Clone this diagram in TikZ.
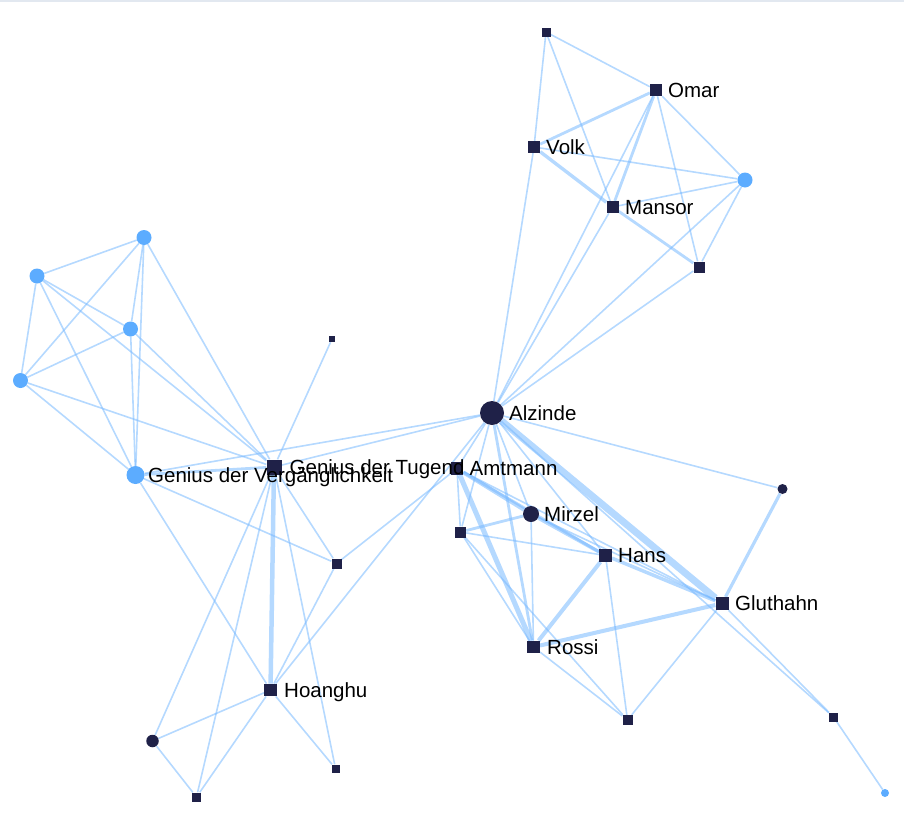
\documentclass[tikz,border=0pt]{standalone}
\usepackage{fontspec}
\setmainfont{Liberation Sans}
\usetikzlibrary{backgrounds}
\definecolor{navy}{RGB}{31,33,72}
\definecolor{lblue}{RGB}{92,172,255}
\definecolor{ecol}{RGB}{120,185,255}
\definecolor{topline}{RGB}{226,232,240}
\begin{document}
\begin{tikzpicture}[x=1bp,y=-1bp,
  sq/.style={rectangle,fill=navy,draw=none,inner sep=0pt,minimum size=#1bp},
  dc/.style={circle,fill=navy,draw=none,inner sep=0pt,minimum size=#1bp},
  lc/.style={circle,fill=lblue,draw=none,inner sep=0pt,minimum size=#1bp},
  e/.style={draw=ecol,draw opacity=0.55,line width=1.6bp},
  ew/.style={draw=ecol,draw opacity=0.55,line width=#1bp},
  lab/.style={anchor=base west,inner sep=0pt,text=black,font=\fontsize{20.5bp}{24bp}\selectfont}]
\useasboundingbox (0,0) rectangle (904,827);
\coordinate (tl) at (0,1);
\coordinate (tr) at (904,1);
\draw[topline,line width=1.5bp] (tl) -- (tr);
% nodes
\node[sq=9] (s1) at (546,32) {};
\node[sq=12] (omar) at (656,90) {};
\node[sq=12] (volk) at (534,147) {};
\node[sq=12] (mansor) at (612.5,207) {};
\node[lc=15] (c1) at (745,180) {};
\node[sq=11] (s2) at (699,267) {};
\node[dc=24] (alz) at (492,413) {};
\node[sq=6] (p1) at (332,339) {};
\node[lc=15] (lb1) at (144,237.5) {};
\node[lc=15] (lb2) at (37,276) {};
\node[lc=15] (lb3) at (130.5,329) {};
\node[lc=15] (lb4) at (20.5,380.5) {};
\node[lc=18] (gdv) at (135.5,475) {};
\node[sq=15] (gdt) at (274,467) {};
\node[sq=12.5] (amt) at (457,468.5) {};
\node[dc=16] (mir) at (531,514) {};
\node[sq=11] (s3) at (460.5,532) {};
\node[sq=12.5] (hans) at (605.5,555.5) {};
\node[sq=13] (glu) at (722,603.5) {};
\node[sq=12.5] (rossi) at (533.5,647) {};
\node[dc=10] (d1) at (782.5,489) {};
\node[sq=10] (s4) at (336.5,563.5) {};
\node[sq=12.5] (hoa) at (270.5,690) {};
\node[dc=12.5] (d2) at (152.5,741) {};
\node[sq=9] (s5) at (196.5,797) {};
\node[sq=8] (s6) at (335.5,768.5) {};
\node[sq=10] (s7) at (627.5,720) {};
\node[sq=9] (s8) at (833.5,717) {};
\node[lc=8] (lb5) at (885,793) {};
% labels
\node[lab] (lomar) at (668,97) {Omar};
\node[lab] (lvolk) at (546,154) {Volk};
\node[lab] (lmansor) at (625,214) {Mansor};
\node[lab] (lalz) at (509,420) {Alzinde};
\node[lab] (lgdv) at (148,482) {Genius der Vergänglichkeit};
\node[lab] (lgdt) at (289.5,474) {Genius der Tugend};
\node[lab] (lamt) at (469.5,475.5) {Amtmann};
\node[lab] (lmir) at (544,521) {Mirzel};
\node[lab] (lhans) at (618,562.5) {Hans};
\node[lab] (lglu) at (735,610.5) {Gluthahn};
\node[lab] (lrossi) at (547,654) {Rossi};
\node[lab] (lhoa) at (284,697) {Hoanghu};
% edges
\begin{scope}[on background layer]
% top cluster
\draw[e] (s1) -- (omar);
\draw[e] (s1) -- (volk);
\draw[e] (s1) -- (mansor);
\draw[ew=2.8] (volk) -- (omar);
\draw[ew=3.4] (volk) -- (mansor);
\draw[e] (volk) -- (c1);
\draw[e] (volk) -- (alz);
\draw[ew=2.8] (omar) -- (mansor);
\draw[e] (omar) -- (c1);
\draw[e] (omar) -- (s2);
\draw[e] (omar) -- (alz);
\draw[e] (mansor) -- (c1);
\draw[ew=2.8] (mansor) -- (s2);
\draw[e] (mansor) -- (alz);
\draw[e] (c1) -- (s2);
\draw[e] (c1) -- (alz);
\draw[e] (s2) -- (alz);
% left cluster
\draw[e] (lb1) -- (lb2);
\draw[e] (lb1) -- (lb3);
\draw[e] (lb1) -- (lb4);
\draw[e] (lb1) -- (gdv);
\draw[e] (lb1) -- (gdt);
\draw[e] (lb2) -- (lb3);
\draw[e] (lb2) -- (lb4);
\draw[e] (lb2) -- (gdv);
\draw[e] (lb2) -- (gdt);
\draw[e] (lb3) -- (lb4);
\draw[e] (lb3) -- (gdv);
\draw[e] (lb3) -- (gdt);
\draw[e] (lb4) -- (gdv);
\draw[e] (lb4) -- (gdt);
\draw[ew=2.8] (gdv) -- (gdt);
\draw[e] (gdv) -- (alz);
\draw[e] (gdv) -- (s4);
\draw[e] (gdv) -- (hoa);
\draw[e] (gdt) -- (alz);
\draw[e] (gdt) -- (p1);
\draw[e] (gdt) -- (s4);
\draw[ew=4.5] (gdt) -- (hoa);
\draw[e] (gdt) -- (d2);
\draw[e] (gdt) -- (s5);
\draw[e] (gdt) -- (s6);
% bottom left
\draw[e] (hoa) -- (d2);
\draw[e] (hoa) -- (s5);
\draw[e] (hoa) -- (s6);
\draw[e] (hoa) -- (s4);
\draw[e] (hoa) -- (alz);
\draw[e] (d2) -- (s5);
\draw[e] (s4) -- (amt);
% right cluster
\draw[e] (alz) -- (amt);
\draw[e] (alz) -- (s3);
\draw[e] (alz) -- (mir);
\draw[e] (alz) -- (hans);
\draw[ew=7] (alz) -- (glu);
\draw[ew=2.8] (alz) -- (rossi);
\draw[e] (alz) -- (d1);
\draw[e] (alz) -- (s8);
\draw[ew=4] (amt) -- (mir);
\draw[ew=2.8] (amt) -- (hans);
\draw[e] (amt) -- (s3);
\draw[ew=5] (amt) -- (rossi);
\draw[e] (amt) -- (glu);
\draw[ew=2.8] (mir) -- (s3);
\draw[ew=3.5] (mir) -- (hans);
\draw[e] (mir) -- (rossi);
\draw[e] (mir) -- (glu);
\draw[e] (s3) -- (hans);
\draw[e] (s3) -- (rossi);
\draw[e] (s3) -- (s7);
\draw[ew=4] (hans) -- (rossi);
\draw[ew=3.5] (hans) -- (glu);
\draw[e] (hans) -- (s7);
\draw[ew=4] (rossi) -- (glu);
\draw[e] (rossi) -- (s7);
\draw[ew=3.2] (glu) -- (d1);
\draw[e] (glu) -- (s7);
\draw[e] (glu) -- (s8);
\draw[e] (s8) -- (lb5);
\end{scope}
\end{tikzpicture}
\end{document}
